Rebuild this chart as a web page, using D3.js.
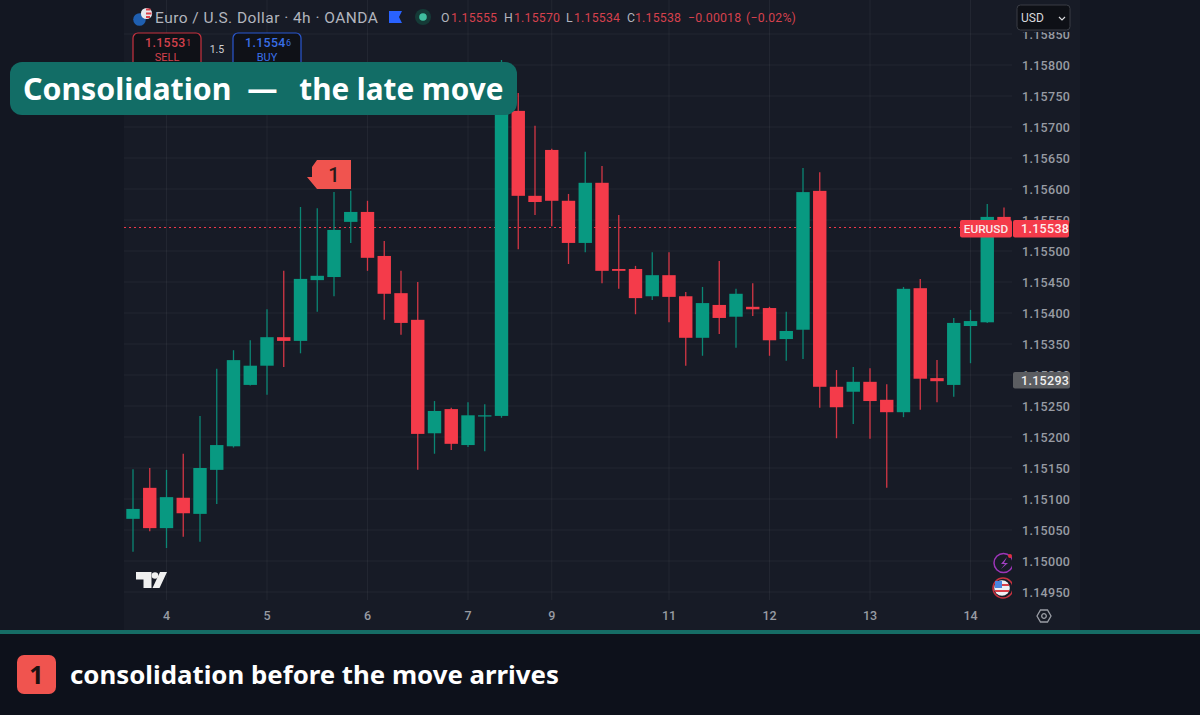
<!DOCTYPE html>
<html><head><meta charset="utf-8">
<script src="https://cdn.jsdelivr.net/npm/d3@7"></script>
<style>html,body{margin:0;padding:0;background:#0d111b}svg{display:block}text{white-space:pre}</style>
</head><body><div id="c"></div>
<script>
const open=[1.15068,1.15118,1.15053,1.15102,1.15076,1.15147,1.15185,1.15284,1.15315,1.15361,1.15355,1.15453,1.15458,1.15547,1.15563,1.15492,1.15432,1.15389,1.15206,1.15245,1.15187,1.15234,1.15234,1.15726,1.15589,1.15663,1.15581,1.15513,1.15610,1.15471,1.15471,1.15427,1.15461,1.15427,1.15360,1.15413,1.15394,1.15410,1.15408,1.15358,1.15373,1.15597,1.15281,1.15273,1.15289,1.15260,1.15240,1.15440,1.15295,1.15284,1.15379,1.15385,1.15555];
const high=[1.15148,1.15150,1.15147,1.15173,1.15234,1.15310,1.15340,1.15356,1.15406,1.15468,1.15571,1.15569,1.15595,1.15597,1.15581,1.15516,1.15468,1.15450,1.15258,1.15247,1.15256,1.15253,1.15808,1.15755,1.15702,1.15665,1.15592,1.15660,1.15637,1.15558,1.15476,1.15498,1.15498,1.15434,1.15442,1.15484,1.15439,1.15448,1.15410,1.15402,1.15634,1.15627,1.15308,1.15313,1.15311,1.15285,1.15442,1.15455,1.15324,1.15392,1.15405,1.15576,1.15570];
const low=[1.15015,1.15048,1.15021,1.15039,1.15031,1.15092,1.15183,1.15283,1.15268,1.15313,1.15335,1.15402,1.15427,1.15513,1.15468,1.15389,1.15365,1.15147,1.15173,1.15179,1.15184,1.15177,1.15231,1.15503,1.15558,1.15540,1.15479,1.15498,1.15448,1.15439,1.15398,1.15421,1.15385,1.15315,1.15331,1.15366,1.15344,1.15395,1.15331,1.15323,1.15326,1.15247,1.15198,1.15221,1.15197,1.15118,1.15232,1.15244,1.15256,1.15265,1.15319,1.15384,1.15534];
const close=[1.15084,1.15053,1.15103,1.15077,1.15150,1.15187,1.15324,1.15315,1.15361,1.15355,1.15455,1.15460,1.15534,1.15563,1.15489,1.15431,1.15384,1.15205,1.15242,1.15189,1.15235,1.15235,1.15728,1.15589,1.15579,1.15581,1.15513,1.15610,1.15468,1.15468,1.15424,1.15461,1.15426,1.15360,1.15416,1.15392,1.15431,1.15406,1.15356,1.15371,1.15595,1.15281,1.15248,1.15289,1.15258,1.15240,1.15439,1.15294,1.15290,1.15384,1.15387,1.15555,1.15538];
const priceTicks=[1.1585,1.158,1.1575,1.157,1.1565,1.156,1.1555,1.155,1.1545,1.154,1.1535,1.153,1.1525,1.152,1.1515,1.151,1.1505,1.15,1.1495];
const dayLabels=["4","5","6","7","9","11","12","13","14"];
const dayIndex=[2,8,14,20,25,32,38,44,50];
const lastPrice=1.15538, prevMark=1.15293;
const ohlc=[["O","1.15555"],["H","1.15570"],["L","1.15534"],["C","1.15538"]];
const titleText="Euro / U.S. Dollar · 4h · OANDA";
const bannerHead="Consolidation  —  ", bannerTail="the late move";
const captionText="consolidation before the move arrives";

const W=1200,H=715, GREEN="#089981", RED="#f43b4a", CORAL="#f0544f", AXIS="#989ba3", PANEL="#171b26";
const UI="Roboto, sans-serif", HEAD="'Noto Sans', sans-serif";
const x=d3.scaleLinear().domain([0,52]).range([133,1004]);
const y=d3.scaleLinear().domain([1.158,1.1495]).range([65,592]);
const svg=d3.select("#c").append("svg").attr("width",W).attr("height",H);
const rect=(g,a,b,w,h,f,r=0)=>g.append("rect").attr("x",a).attr("y",b).attr("width",w).attr("height",h).attr("fill",f).attr("rx",r);
const label=(g,t,a,b,s,f,o={})=>g.append("text").attr("x",a).attr("y",b).attr("font-size",s).attr("fill",f)
  .attr("font-family",o.ff||UI).attr("font-weight",o.w||400).attr("text-anchor",o.a||"start").attr("letter-spacing",o.ls||0).text(t);

rect(svg,0,0,W,630,"#131722");
rect(svg,124,0,956,630,PANEL);
rect(svg,0,634,W,81,"#0d111b");
rect(svg,0,630,W,4,"#166d66");

// grid
const grid=svg.append("g").attr("stroke","#ffffff").attr("stroke-opacity",0.05);
priceTicks.forEach(p=>grid.append("line").attr("x1",124).attr("x2",1012).attr("y1",y(p)).attr("y2",y(p)));
dayIndex.forEach(i=>grid.append("line").attr("x1",x(i)).attr("x2",x(i)).attr("y1",0).attr("y2",600));

// last price line
const ly=Math.floor(y(lastPrice))+.5;
svg.append("line").attr("x1",124).attr("x2",1012).attr("y1",ly).attr("y2",ly)
  .attr("stroke","#f0364a").attr("stroke-dasharray","2 3");

// candles
const data=open.map((o,i)=>({i,o,h:high[i],l:low[i],c:close[i]}));
const colour=d=>d.c>=d.o?GREEN:RED;
const g=svg.append("g");
g.selectAll("line").data(data).join("line")
  .attr("x1",d=>x(d.i)).attr("x2",d=>x(d.i)).attr("y1",d=>y(d.h)).attr("y2",d=>y(d.l))
  .attr("stroke",colour).attr("stroke-opacity",.85).attr("stroke-width",1.3);
g.selectAll("rect").data(data).join("rect")
  .attr("x",d=>x(d.i)-6.7).attr("width",13.4)
  .attr("y",d=>Math.min(y(d.o),y(d.c))).attr("height",d=>Math.max(1.2,Math.abs(y(d.o)-y(d.c))))
  .attr("fill",colour);

// price axis
priceTicks.forEach(p=>label(svg,p.toFixed(5),1022,y(p)+4.5,12.5,AXIS,{w:500,ls:.3}));
// x axis
dayLabels.forEach((t,k)=>label(svg,t,x(dayIndex[k]),620,12.5,AXIS,{a:"middle",w:500}));

// gear
const gear=svg.append("g").attr("transform","translate(1044,616)").attr("fill","none").attr("stroke","#9a9da5").attr("stroke-width",1.3);
gear.append("path").attr("d","M-7,0 L-3.5,-6 L3.5,-6 L7,0 L3.5,6 L-3.5,6 Z");
gear.append("circle").attr("r",2.3);

// price labels
rect(svg,960,220,52,17.5,RED,2);
label(svg,"EURUSD",986,233,11.8,"#fbe9ea",{a:"middle",w:500});
rect(svg,1013,220,56,17.5,RED,2);
label(svg,lastPrice.toFixed(5),1021,233,12.5,"#fdeeee",{w:500,ls:.3});
rect(svg,1013,372,57,16.5,"#5b5d61",2);
label(svg,prevMark.toFixed(5),1021,385,12.5,"#f0f0f0",{w:500,ls:.3});

// USD button, with the panel showing above the axis text it hides
rect(svg,1012,0,68,32,PANEL);
svg.append("rect").attr("x",1017).attr("y",5).attr("width",53).attr("height",25).attr("rx",3.5).attr("fill","#0e1016").attr("stroke","#3a3d45");
label(svg,"USD",1021,22,12,"#d8d9dc");
svg.append("path").attr("d","M1059,17 l3,3 l3,-3").attr("fill","none").attr("stroke","#d8d9dc").attr("stroke-width",1.2);

// header
const fl=svg.append("g");
fl.append("circle").attr("cx",139.5).attr("cy",19.5).attr("r",6.3).attr("fill","#1f5fb0");
fl.append("circle").attr("cx",146.5).attr("cy",13.5).attr("r",5.6).attr("fill","#e8e8ee");
fl.append("path").attr("d","M146,8.5 h4.5 v2 h-4.5z M146,12.5 h5.5 v2 h-5.5z M146,16 h4 v2 h-4z").attr("fill","#d8404a");
label(svg,titleText,155,23,15.5,"#b2b5be",{ls:.45});
svg.append("path").attr("d","M389,11 h13 l-3,6 l3,6 h-13z").attr("fill","#2962ff");
svg.append("circle").attr("cx",423).attr("cy",17).attr("r",8).attr("fill","#153a37");
svg.append("circle").attr("cx",423).attr("cy",17).attr("r",3.8).attr("fill","#3fbf9f");
const ohlcX=[441,504,566,627], ohlcGap=[10,10,8,8];
ohlc.forEach(([k,v],i)=>{
  label(svg,k,ohlcX[i],22,12.3,"#b2b5be",{ls:.2});
  label(svg,v,ohlcX[i]+ohlcGap[i],22,12.3,"#d5414d",{ls:.2});
});
label(svg,"−0.00018",688,22,12.3,"#d5414d",{ls:.2});
label(svg,"(−0.02%)",746,22,12.3,"#d5414d",{ls:.2});

// trade buttons
[[133,"#c8323f","#d5414d","1.1553","1","SELL"],[233,"#2a58d0","#3a70e8","1.1554","6","BUY"]].forEach(([a,st,tc,p,s,n])=>{
  svg.append("rect").attr("x",a).attr("y",33).attr("width",68).attr("height",36).attr("rx",5).attr("fill","#0f1117").attr("stroke",st).attr("stroke-width",1.2);
  label(svg,p,a+12,47,12.3,tc,{w:500,ls:.4});
  label(svg,s,a+53,46,9,tc);
  label(svg,n,a+34,61,11,tc,{a:"middle"});
});
label(svg,"1.5",217,53,10.5,"#cfd0d3",{a:"middle"});

// TV logo
const tv=svg.append("g").attr("fill","#f0f0f0");
tv.append("path").attr("d","M136,572 h15.5 v16 h-8 v-8.5 h-7.5z");
tv.append("circle").attr("cx",155).attr("cy",575.5).attr("r",3.3);
tv.append("path").attr("d","M160,572 h7 l-7.5,16 h-7z");

// bottom icons
svg.append("defs").append("clipPath").attr("id","ic").append("rect").attr("x",985).attr("y",545).attr("width",27).attr("height",60);
const ic=svg.append("g").attr("clip-path","url(#ic)");
ic.append("circle").attr("cx",1003.5).attr("cy",563).attr("r",9.5).attr("fill",PANEL).attr("stroke","#9c35b8").attr("stroke-width",1.5);
ic.append("path").attr("d","M1007,557 l-6,7 h4 l-4,5 l7,-6 h-4z").attr("fill","#a040c0");
ic.append("circle").attr("cx",1003).attr("cy",588).attr("r",10).attr("fill",PANEL).attr("stroke","#c8323f").attr("stroke-width",1.5);
ic.append("circle").attr("cx",1002).attr("cy",588).attr("r",7.8).attr("fill","#eef0f4");
ic.append("path").attr("d","M995,585 h14 M995,591 h14").attr("stroke","#d8404a").attr("stroke-width",2);
ic.append("rect").attr("x",995).attr("y",581).attr("width",7).attr("height",7).attr("fill","#4a86e0");
svg.append("circle").attr("cx",1010).attr("cy",556).attr("r",2).attr("fill","#e03040");

// marker
const mx=x(12), my=y(1.156);
svg.append("path").attr("transform",`translate(${mx},${my})`).attr("d","M-17,-29 H17 V0 H-17 L-27,-12 H-22 V-22 Z").attr("fill",CORAL);
label(svg,"1",mx,my-7.5,20,"#2a1a1a",{a:"middle",w:500});

// banner
rect(svg,10,62,507,53,"#126d66",12);
const bt=label(svg,"",23,100,30.3,"#ffffff",{ff:HEAD,w:700});
bt.append("tspan").text(bannerHead);
bt.append("tspan").attr("dx",6).attr("font-size",29.7).text(bannerTail);

// caption
rect(svg,17,655,39,39,CORAL,7);
label(svg,"1",36.5,683.5,25,"#1c1212",{a:"middle",w:700,ff:HEAD});
label(svg,captionText,70,684,25.8,"#ffffff",{ff:HEAD,w:700});
</script></body></html>
